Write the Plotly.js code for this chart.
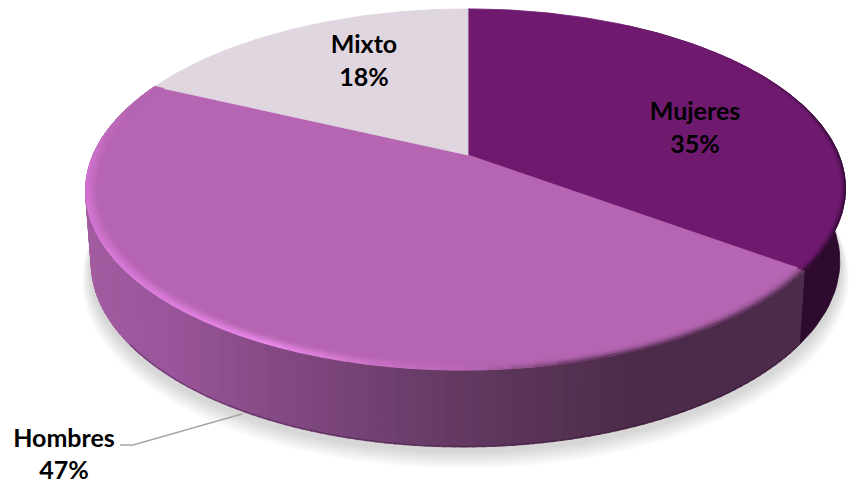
<!DOCTYPE html>
<html><head><meta charset="utf-8">
<script src="https://cdn.plot.ly/plotly-3.0.1.min.js"></script>
<style>html,body{margin:0;padding:0;background:#fff}#c{width:855px;height:483px}</style></head>
<body><div id="c"></div>
<script>
const categories = ["Mujeres", "Hombres", "Mixto"];
const shares = [35, 47, 18];
const faceColors = ["#6f1a6f", "#b565b1", "#e0d6e0"];
const wallColor = "#2d0a2e";
const labelXY = [[695,114,147],[64,441,473],[364,47,80]];
const leaderX = [120,133,242], leaderY = [445,445,414];

// projection of the tilted disc into the plot's coordinates
const AX=468, AY=155, RA=373, RB=174, PERS=0.191, SK=2;
function P(r,deg,lvl){
  const t=deg*Math.PI/180, u=Math.sin(t)*r, v=Math.cos(t)*r, w=1+PERS*v;
  const X=AX+(RA*u-SK*(1-v))/w, Y=AY-RB*v/w;
  return lvl? [AX+(X-AX)*0.985, AY+72+(Y-AY)*1.023] : [X,Y];
}
const hex=c=>[1,3,5].map(i=>parseInt(c.substr(i,2),16));
const mix=(a,b,t)=>{const A=hex(a),B=hex(b);return '#'+A.map((v,i)=>Math.round(v+(B[i]-v)*t).toString(16).padStart(2,'0')).join('');};
function ramp(stops,x){
  if(x<=stops[0][0])return stops[0][1];
  for(let i=1;i<stops.length;i++) if(x<=stops[i][0])
    return mix(stops[i-1][1],stops[i][1],(x-stops[i-1][0])/(stops[i][0]-stops[i-1][0]));
  return stops[stops.length-1][1];
}
const traces=[];
function poly(pts,c,op){
  const x=pts.map(p=>p[0]),y=pts.map(p=>p[1]);x.push(x[0]);y.push(y[0]);
  traces.push({type:'scatter',mode:'lines',x,y,fill:'toself',fillcolor:c,
    line:{color:op?'rgba(0,0,0,0)':c,width:op?0:0.8},hoverinfo:'skip',showlegend:false});
}
function band(a,b,r1,r2,l1,l2,c){
  const pts=[];const n=Math.max(1,Math.ceil(Math.abs(b-a)/2));
  for(let i=0;i<=n;i++)pts.push(P(r1,a+(b-a)*i/n,l1));
  for(let i=n;i>=0;i--)pts.push(P(r2,a+(b-a)*i/n,l2));
  poly(pts,c);
}
// slice angles from the shares
const total=shares.reduce((a,b)=>a+b,0);
const edges=[0];shares.forEach(s=>edges.push(edges[edges.length-1]+s/total*360));

// soft shadow
for(let k=0;k<10;k++){
  const f=(9-k)/9, e=0.004+0.02*f, dy=5+10*f, pts=[];
  for(let d=0;d<360;d+=3){const p=P(1+e,d,1);pts.push([p[0],p[1]+dy]);}
  poly(pts,'rgba(0,0,0,0.016)',true);
}
// side wall
const wallStops=[[85,'#a25ca0'],[170,'#98559a'],[300,'#80477f'],[450,'#643a64'],[580,'#533050'],[640,'#4c2a4a'],[810,'#4d2b4b']];
band(edges[0]+30,edges[1],1,1,0,1,wallColor);
for(let d=edges[1];d<edges[2];d+=1.25){
  const mid=P(1,d+0.6,0);
  band(d,Math.min(d+1.5,edges[2]),1,1,0,1,ramp(wallStops,mid[0]));
}
{ const x=[],y=[];
  for(let d=edges[1];d<=235;d+=2){const p=P(1,d,1);x.push(p[0]);y.push(p[1]-0.5);}
  traces.push({type:'scatter',mode:'lines',x,y,line:{color:'rgba(45,15,45,0.35)',width:1.3},hoverinfo:'skip',showlegend:false});
}
// top faces
shares.forEach((s,i)=>{
  const pts=[[AX,AY]];
  const n=Math.ceil(edges[i+1]-edges[i]);
  for(let j=0;j<=n;j++)pts.push(P(1,edges[i]+(edges[i+1]-edges[i])*j/n,0));
  poly(pts,faceColors[i]);
});
// bevel rims
const hiStops=[[126,'#4d2b4b'],[165,'#4d2b4b'],[178,'#b565b1'],[190,'#cc72c8'],[205,'#f08ef0'],[222,'#e482e4'],[245,'#d878d8'],[268,'#d272d2'],[284,'#b968b5'],[296,'#b565b1']];
const rimSteps=7;
for(let j=0;j<rimSteps;j++){
  const r1=1-0.032*j/rimSteps, r2=1-0.032*(j+1)/rimSteps, f=1-(j+0.5)/rimSteps;
  for(let d=edges[1];d<edges[2];d+=3){
    const m=d+1.5, hi=ramp(hiStops,m), dark=m<178;
    const t=dark?Math.pow(f,2.4):Math.pow(f,0.9);
    band(d,Math.min(d+3.2,edges[2]),r1,r2,0,0,mix(faceColors[1],hi,t));
  }
}
for(let j=0;j<5;j++){
  const r1=1-0.018*j/5, r2=1-0.018*(j+1)/5, f=1-(j+0.5)/5;
  for(let d=48;d<edges[1];d+=4){
    const a=Math.min(1,(d-48)/30);
    band(d,Math.min(d+4.2,edges[1]),r1,r2,0,0,mix(faceColors[0],'#2d0a2e',f*f*a));
  }
}
// leader line
traces.push({type:'scatter',mode:'lines',x:leaderX,y:leaderY,line:{color:'#a6a6a6',width:1.4},hoverinfo:'skip',showlegend:false});
// labels
const tf={family:'Lato, "Noto Sans", sans-serif',size:25,color:'#000000'};
traces.push({type:'scatter',mode:'text',x:labelXY.map(l=>l[0]),y:labelXY.map(l=>l[1]),
  text:categories.map(c=>'<b>'+c+'</b>'),textposition:'middle center',textfont:tf,hoverinfo:'skip',showlegend:false});
traces.push({type:'scatter',mode:'text',x:labelXY.map(l=>l[0]),y:labelXY.map(l=>l[2]),
  text:shares.map(s=>'<b>'+s+'%</b>'),textposition:'middle center',textfont:tf,hoverinfo:'skip',showlegend:false});

const ax={visible:false,fixedrange:true};
Plotly.newPlot('c',traces,{
  width:855,height:483,margin:{l:0,r:0,t:0,b:0},
  paper_bgcolor:'#ffffff',plot_bgcolor:'#ffffff',showlegend:false,hovermode:false,
  xaxis:Object.assign({range:[0,855]},ax),yaxis:Object.assign({range:[483,0]},ax)
},{displayModeBar:false,staticPlot:true});
</script></body></html>
